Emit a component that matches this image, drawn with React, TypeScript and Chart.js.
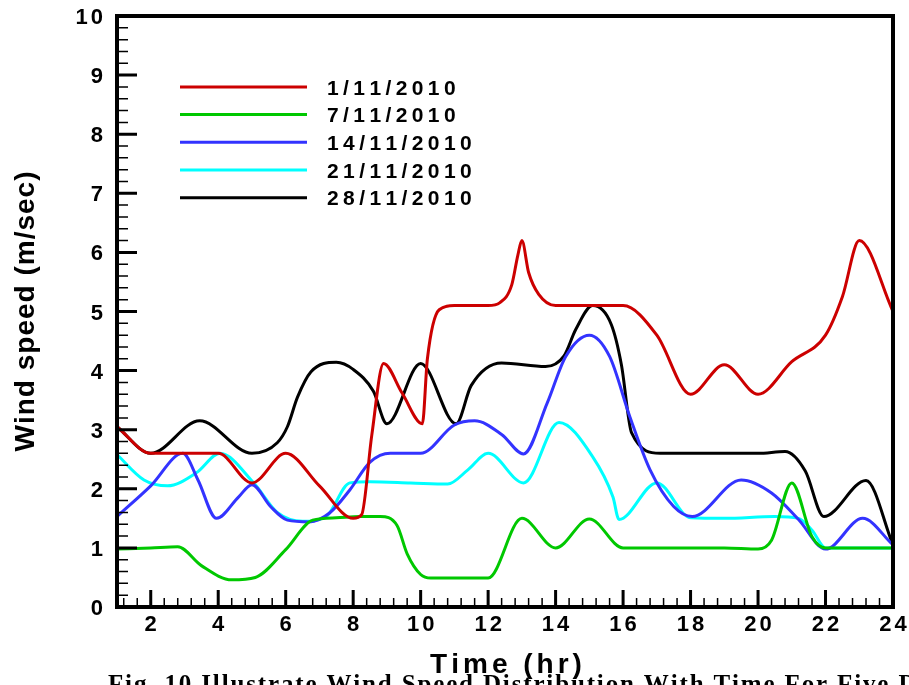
import React, { useEffect, useRef } from 'react';
import { Chart, registerables } from 'chart.js';

Chart.register(...registerables);

// ---- data ----
const seriesLabels = ['1/11/2010', '7/11/2010', '14/11/2010', '21/11/2010', '28/11/2010'];
const seriesColors = ['#cc0000', '#00c800', '#3333ff', '#00ffff', '#000000'];

const redHours = [1, 2, 3, 4, 5, 6, 7, 8, 8.25, 8.55, 8.9, 9.45, 10.05, 10.2, 10.55, 11, 12, 12.35, 12.7, 12.88, 13, 13.2, 13.5, 14, 15, 16, 17, 18, 19, 20, 21, 22, 22.5, 23, 24];
const redSpeed = [3.05, 2.6, 2.6, 2.6, 2.1, 2.6, 2.05, 1.5, 1.56, 2.9, 4.12, 3.62, 3.1, 4.2, 5.03, 5.1, 5.1, 5.15, 5.45, 5.95, 6.2, 5.66, 5.29, 5.1, 5.1, 5.1, 4.6, 3.6, 4.1, 3.6, 4.15, 4.6, 5.25, 6.2, 5.0];

const greenHours = [1, 2, 2.8, 3.5, 4.4, 5.1, 6, 6.8, 7.5, 8.2, 8.8, 9.3, 9.6, 10, 10.3, 11, 12, 13, 14, 15, 16, 17, 18, 19, 20, 20.4, 21, 21.6, 22, 23, 24];
const greenSpeed = [0.98, 1.0, 1.02, 0.7, 0.46, 0.5, 0.97, 1.47, 1.51, 1.53, 1.53, 1.38, 0.9, 0.55, 0.49, 0.49, 0.49, 1.5, 1.0, 1.49, 1.0, 1.0, 1.0, 1.0, 0.98, 1.13, 2.1, 1.19, 1.0, 1.0, 1.0];

const blueHours = [1, 2, 2.95, 3.4, 3.95, 4.6, 5.0, 5.55, 6.05, 6.7, 7.3, 7.9, 8.5, 9.1, 10, 11, 11.6, 12.4, 13.05, 13.75, 14.3, 15, 15.6, 16.2, 16.8, 17.5, 18.05, 19.5, 20.4, 21.2, 22, 23.1, 24];
const blueSpeed = [1.53, 2.05, 2.6, 2.15, 1.5, 1.86, 2.07, 1.7, 1.47, 1.44, 1.59, 1.98, 2.45, 2.6, 2.6, 3.08, 3.15, 2.92, 2.59, 3.45, 4.24, 4.6, 4.24, 3.22, 2.32, 1.7, 1.53, 2.15, 1.93, 1.48, 0.98, 1.5, 1.05];

const cyanHours = [1, 1.8, 2.5, 3.35, 4.05, 5.05, 5.75, 6.5, 7.2, 7.9, 8.5, 9.7, 10.8, 11.4, 12, 13.05, 14.1, 15.1, 15.7, 15.88, 17, 18, 19, 20.5, 21.2, 21.6, 22, 23, 24];
const cyanSpeed = [2.58, 2.15, 2.05, 2.27, 2.6, 2.1, 1.6, 1.45, 1.53, 2.1, 2.12, 2.1, 2.08, 2.32, 2.6, 2.1, 3.12, 2.54, 1.86, 1.48, 2.1, 1.51, 1.5, 1.53, 1.5, 1.3, 1.0, 1.0, 1.0];

const blackHours = [1, 2, 3.45, 5, 5.75, 6.05, 6.35, 6.75, 7.5, 8, 8.6, 9, 10, 11.05, 11.5, 12.4, 13.7, 14.25, 14.6, 15.1, 15.65, 15.95, 16.25, 17.1, 18, 19, 20, 20.8, 21.4, 21.95, 23.2, 24];
const blackSpeed = [3.05, 2.6, 3.15, 2.6, 2.78, 3.05, 3.55, 3.98, 4.14, 4.02, 3.65, 3.1, 4.12, 3.1, 3.75, 4.13, 4.07, 4.25, 4.7, 5.1, 4.78, 4.1, 2.95, 2.6, 2.6, 2.6, 2.6, 2.63, 2.3, 1.53, 2.14, 1.05];

const xTickValues = [2, 4, 6, 8, 10, 12, 14, 16, 18, 20, 22, 24];
const yTickValues = [0, 1, 2, 3, 4, 5, 6, 7, 8, 9, 10];
const xTitle = 'Time (hr)';
const yTitle = 'Wind speed (m/sec)';
const caption = 'Fig. 10 Illustrate Wind Speed Distribution With Time For Five Days';

const SANS = '"Liberation Sans", Arial, sans-serif';
const SERIF = '"Liberation Serif", "Times New Roman", serif';

function spacedWidth(ctx: CanvasRenderingContext2D, text: string, ls: number) {
  let w = 0;
  for (const ch of text) w += ctx.measureText(ch).width;
  return w + ls * (text.length - 1);
}

function drawSpaced(ctx: CanvasRenderingContext2D, text: string, x: number, y: number, ls: number, align: 'left' | 'center' | 'right') {
  const w = spacedWidth(ctx, text, ls);
  let cx = align === 'center' ? x - w / 2 : align === 'right' ? x - w : x;
  ctx.textAlign = 'left';
  for (const ch of text) {
    ctx.fillText(ch, cx, y);
    cx += ctx.measureText(ch).width + ls;
  }
}

const framePlugin = {
  id: 'tecplotFrame',
  afterDatasetsDraw(chart: any) {
    const ctx: CanvasRenderingContext2D = chart.ctx;
    const xs = chart.scales.x;
    const ys = chart.scales.y;
    const { left, right, top, bottom } = chart.chartArea;
    ctx.save();
    ctx.strokeStyle = '#000';
    ctx.fillStyle = '#000';

    // minor ticks
    ctx.lineWidth = 1.5;
    ctx.beginPath();
    for (let k = -5; k <= 60; k++) {
      const v = xTickValues[0] + k * 0.4;
      if (v <= xs.min + 1e-6 || v >= xs.max - 1e-6) continue;
      const px = xs.getPixelForValue(v);
      ctx.moveTo(px, bottom);
      ctx.lineTo(px, bottom - 9);
    }
    for (let k = 1; k < 50; k++) {
      const v = k * 0.2;
      if (v >= ys.max - 1e-6) continue;
      const py = ys.getPixelForValue(v);
      ctx.moveTo(left, py);
      ctx.lineTo(left + 11, py);
    }
    ctx.stroke();

    // major ticks
    ctx.lineWidth = 3;
    ctx.beginPath();
    for (const v of xTickValues) {
      const px = xs.getPixelForValue(v);
      ctx.moveTo(px, bottom);
      ctx.lineTo(px, bottom - 17);
    }
    for (const v of yTickValues) {
      const py = ys.getPixelForValue(v);
      ctx.moveTo(left, py);
      ctx.lineTo(left + 20, py);
    }
    ctx.stroke();

    // frame
    ctx.lineWidth = 4;
    ctx.strokeRect(left, top, right - left, bottom - top);

    // tick labels
    ctx.font = `bold 22px ${SANS}`;
    ctx.textBaseline = 'alphabetic';
    for (const v of yTickValues) {
      const py = ys.getPixelForValue(v);
      drawSpaced(ctx, String(v), 103, py + 8, 3, 'right');
    }
    for (const v of xTickValues) {
      const px = xs.getPixelForValue(v);
      drawSpaced(ctx, String(v), px, 631, 3, 'center');
    }

    // axis titles
    ctx.font = `bold 28px ${SANS}`;
    drawSpaced(ctx, xTitle, (left + right) / 2 + 1, 673, 4, 'center');
    ctx.save();
    ctx.translate(34, (top + bottom) / 2);
    ctx.rotate(-Math.PI / 2);
    drawSpaced(ctx, yTitle, 0, 0, 1, 'center');
    ctx.restore();

    // legend
    const legendY = [87, 114.5, 142.2, 170, 197.7];
    chart.data.datasets.forEach((ds: any, i: number) => {
      const y = legendY[i];
      ctx.strokeStyle = ds.borderColor;
      ctx.lineWidth = 3;
      ctx.beginPath();
      ctx.moveTo(180, y);
      ctx.lineTo(307, y);
      ctx.stroke();
      ctx.fillStyle = '#000';
      ctx.font = `bold 21px ${SANS}`;
      drawSpaced(ctx, ds.label, 327, y + 7.5, 4.4, 'left');
    });

    // caption (cut off by the bottom of the picture)
    ctx.font = `bold 25px ${SERIF}`;
    ctx.fillStyle = '#000';
    drawSpaced(ctx, caption, 108, 692, 1.85, 'left');

    ctx.restore();
  },
};

function makeSeries(hours: number[], speed: number[]) {
  return hours.map((h, i) => ({ x: h, y: speed[i] }));
}

export default function App() {
  const ref = useRef<HTMLCanvasElement | null>(null);

  useEffect(() => {
    if (!ref.current) return;
    const all = [
      [redHours, redSpeed],
      [greenHours, greenSpeed],
      [blueHours, blueSpeed],
      [cyanHours, cyanSpeed],
      [blackHours, blackSpeed],
    ];
    const chart = new Chart(ref.current, {
      type: 'line',
      data: {
        datasets: all.map(([h, s], i) => ({
          label: seriesLabels[i],
          data: makeSeries(h as number[], s as number[]),
          borderColor: seriesColors[i],
          backgroundColor: seriesColors[i],
          borderWidth: 3,
          pointRadius: 0,
          fill: false,
          cubicInterpolationMode: 'monotone',
        })),
      },
      options: {
        responsive: false,
        animation: false,
        layout: { padding: { left: 117, right: 16, top: 16, bottom: 78 } },
        scales: {
          x: { type: 'linear', min: 1, max: 24, display: false },
          y: { type: 'linear', min: 0, max: 10, display: false },
        },
        plugins: { legend: { display: false }, tooltip: { enabled: false } },
      },
      plugins: [framePlugin],
    } as any);
    return () => chart.destroy();
  }, []);

  return (
    <div style={{ position: 'fixed', left: 0, top: 0, width: 909, height: 685, background: '#fff' }}>
      <canvas ref={ref} width={909} height={685} style={{ display: 'block' }} />
    </div>
  );
}
